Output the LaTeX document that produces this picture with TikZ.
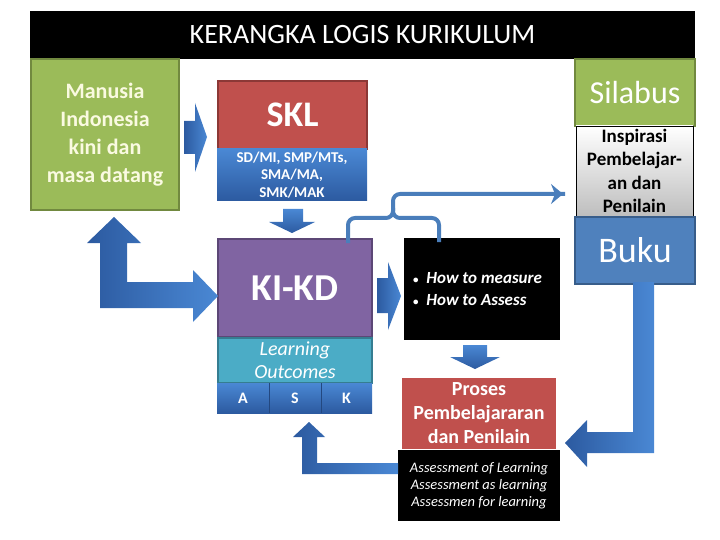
\documentclass[tikz,border=0pt]{standalone}
\usepackage{fontspec}
\setmainfont{Carlito}
\usetikzlibrary{arrows.meta}
\definecolor{grn}{RGB}{155,187,89}
\definecolor{grnD}{RGB}{113,137,63}
\definecolor{redb}{RGB}{192,80,77}
\definecolor{redD}{RGB}{140,56,54}
\definecolor{purp}{RGB}{128,100,162}
\definecolor{purpD}{RGB}{92,71,118}
\definecolor{tealb}{RGB}{75,172,198}
\definecolor{tealD}{RGB}{53,125,145}
\definecolor{blueb}{RGB}{79,129,189}
\definecolor{blueD}{RGB}{56,93,138}
\definecolor{arrD}{RGB}{44,90,160}
\definecolor{arrL}{RGB}{74,136,212}
\definecolor{cream}{RGB}{250,250,225}
\definecolor{brk}{RGB}{74,126,187}
\definecolor{grayb}{RGB}{190,190,190}
\begin{document}
\begin{tikzpicture}[x=1pt,y=-1pt,
  blk/.style={anchor=north west, inner sep=0pt, outer sep=0pt, align=center, text=white},
  boxline/.style={draw=#1, line width=1.6pt},
  gradblue/.style={top color=arrL, bottom color=arrD},
  harrow/.style={left color=arrD, right color=arrL},
  varrow/.style={top color=arrL, bottom color=arrD},
  bracket/.style={draw=brk, line width=4pt, rounded corners=7pt}]
\useasboundingbox (0,0) rectangle (720,540);

% title bar
\node[blk, fill=black, minimum width=665pt, minimum height=48pt,
      font=\fontsize{28}{32}\selectfont] (title) at (30,11) {KERANGKA LOGIS KURIKULUM};

% left green box
\node[blk, fill=grn, boxline=grnD, minimum width=148pt, minimum height=151pt,
      text=cream, font=\bfseries\fontsize{22}{28}\selectfont] (manusia) at (31,59)
      {Manusia\\Indonesia\\kini dan\\masa datang};

% SKL
\node[blk, fill=redb, boxline=redD, minimum width=149pt, minimum height=68pt,
      font=\bfseries\fontsize{36}{40}\selectfont] (skl) at (218,81) {SKL};
\node[blk, gradblue, minimum width=150pt, minimum height=52pt,
      font=\bfseries\fontsize{15}{17.5}\selectfont] (sdmi) at (217,149)
      {SD/MI, SMP/MTs,\\SMA/MA,\\SMK/MAK};

% KI-KD
\node[blk, fill=purp, boxline=purpD, minimum width=154pt, minimum height=98pt,
      font=\bfseries\fontsize{38}{42}\selectfont] (kikd) at (218,239) {KI-KD};
\node[blk, fill=tealb, boxline=tealD, minimum width=154pt, minimum height=45pt,
      font=\itshape\fontsize{20}{23}\selectfont] (lo) at (218,338) {Learning\\Outcomes};
\node[blk, gradblue, minimum width=52pt, minimum height=30pt,
      font=\bfseries\fontsize{16}{17}\selectfont] (a) at (217,383) {A};
\node[blk, gradblue, minimum width=52pt, minimum height=30pt,
      font=\bfseries\fontsize{16}{17}\selectfont] (s) at (269,383) {S};
\node[blk, gradblue, minimum width=51pt, minimum height=30pt,
      font=\bfseries\fontsize{16}{17}\selectfont] (k) at (321,383) {K};
\draw[arrD!80!black, line width=0.6pt] (s.north west) -- (s.south west) (k.north west) -- (k.south west);

% how to box
\node[blk, fill=black, minimum width=156pt, minimum height=102pt] (how) at (404,238) {};
\node[anchor=west, inner sep=0pt, text=white, align=left,
      font=\bfseries\itshape\fontsize{17}{22}\selectfont] (howtxt) at ([xshift=9pt]how.west)
      {{\upshape\fontsize{11}{11}\selectfont •}\ \ How to measure\\{\upshape\fontsize{11}{11}\selectfont •}\ \ How to Assess};

% Proses
\node[blk, fill=redb, minimum width=154pt, minimum height=71pt,
      font=\bfseries\fontsize{20}{24}\selectfont] (proses) at (402,378)
      {Proses\\Pembelajararan\\dan Penilain};
\node[blk, fill=black, minimum width=162pt, minimum height=71pt,
      font=\itshape\fontsize{14.5}{17}\selectfont] (assess) at (398,450)
      {Assessment of Learning\\Assessment as learning\\Assessmen for learning};

% right column
\node[blk, fill=grn, boxline=grnD, minimum width=120pt, minimum height=67pt,
      font=\fontsize{32}{34}\selectfont] (silabus) at (575,59) {Silabus};
\node[blk, top color=white, bottom color=grayb, draw=black, line width=0.8pt,
      minimum width=117pt, minimum height=90pt, text=black,
      font=\bfseries\fontsize{19}{23.5}\selectfont] (insp) at (576,126)
      {Inspirasi\\Pembelajar-\\an dan\\Penilain};
\node[blk, fill=blueb, boxline=blueD, minimum width=120pt, minimum height=67pt,
      font=\fontsize{36}{38}\selectfont] (buku) at (575,217) {Buku};

% block arrows
\shade[harrow] (184,121) -- (195,121) -- (195,103) -- (207,137) -- (195,172) -- (195,154) -- (184,154) -- cycle;
\shade[varrow] (283,209) -- (303,209) -- (303,222) -- (315,222) -- (292,233) -- (269,222) -- (283,222) -- cycle;
\shade[harrow] (114,217) -- (141,243) -- (127,243) -- (127,282) -- (193,282) -- (193,270) -- (218,296)
   -- (193,322) -- (193,308) -- (100,308) -- (100,243) -- (87,243) -- cycle;
\shade[harrow] (377,278) -- (388,278) -- (388,262) -- (401,296) -- (388,330) -- (388,313) -- (377,313) -- cycle;
\shade[varrow] (463,345) -- (487,345) -- (487,357) -- (500,357) -- (475,369) -- (450,357) -- (463,357) -- cycle;
\shade[harrow] (633,282) -- (654,282) -- (654,453) -- (587,453) -- (587,467) -- (565,443) -- (587,420)
   -- (587,432) -- (633,432) -- cycle;
\shade[harrow] (398,463) -- (317,463) -- (317,437) -- (325,437) -- (309,422) -- (293,437) -- (302,437)
   -- (302,474) -- (398,474) -- cycle;

% bracket connector
\coordinate (brmid) at (393,218);
\draw[bracket] ([xshift=-24pt,yshift=-4pt]kikd.north east) |- (brmid) |- ([xshift=-11pt,yshift=-23pt]insp.west);
\draw[bracket] ([xshift=35pt,yshift=-4pt]how.north west) |- (brmid) -- ++(0,-10);
\draw[brk, line width=4pt, -{Stealth[length=12pt,width=20pt,inset=4pt]}]
   ([xshift=-14pt,yshift=-23pt]insp.west) -- ([xshift=-13pt,yshift=-23pt]insp.west);
\end{tikzpicture}
\end{document}
